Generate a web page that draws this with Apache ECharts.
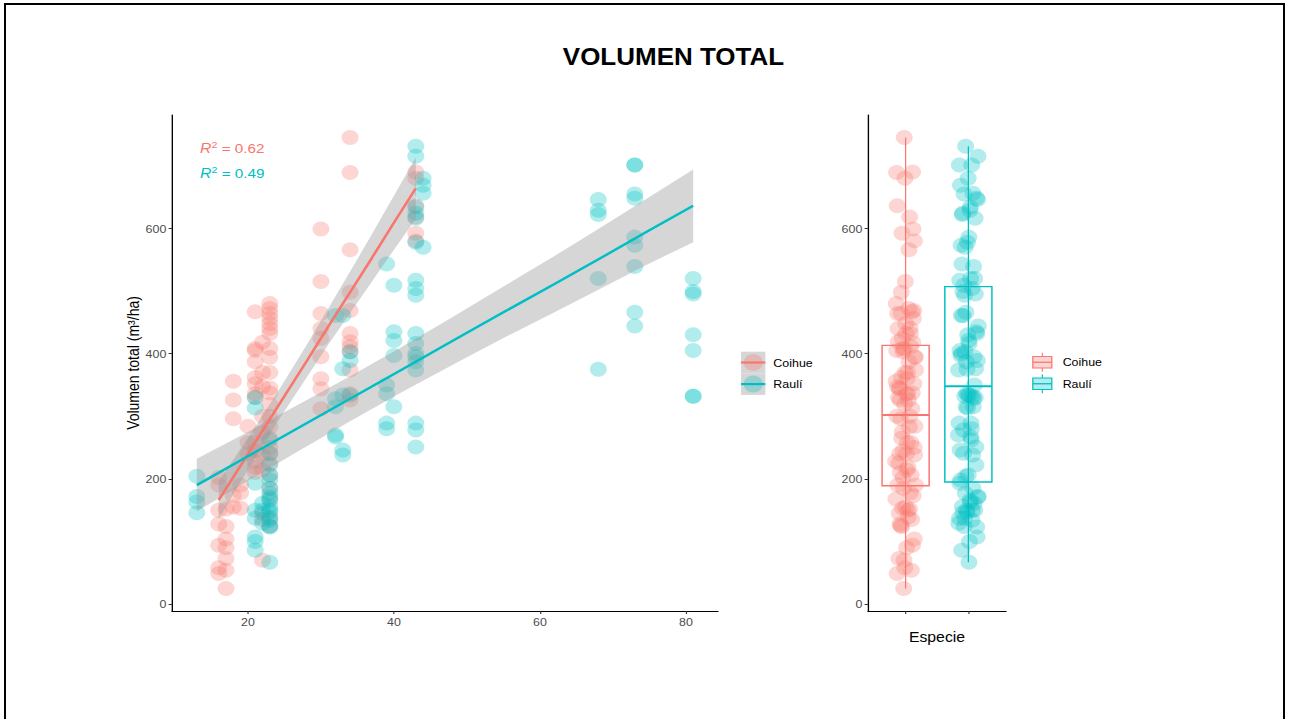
<!DOCTYPE html>
<html>
<head>
<meta charset="utf-8">
<title>VOLUMEN TOTAL</title>
<script src="https://cdn.jsdelivr.net/npm/echarts@6/dist/echarts.min.js"></script>
<style>
  html, body { margin: 0; padding: 0; background: #fff; overflow: hidden; }
  #wrap { position: absolute; left: 0; top: 0; width: 1142.5px; height: 719px;
          transform: scaleX(1.13); transform-origin: 0 0; }
  #chart { width: 100%; height: 100%; }
  #frame { position: absolute; left: 4px; top: 3px; width: 1281px; height: 800px;
           border: 2px solid #000; box-sizing: border-box; pointer-events: none; }
</style>
</head>
<body>
<div id="wrap"><div id="chart"></div></div>
<div id="frame"></div>
<script>
// ---- data -------------------------------------------------------------
const species = ['Coihue', 'Raulí'];

// Coihue: x position of each column and the volumes (m3/ha) in it
const coihueXs = [16, 17, 18, 19, 20, 21, 22, 23, 30, 34, 43];
const coihueVol = [
  [202, 190, 150, 128, 94, 58, 49],
  [152, 124, 104, 90, 73, 54, 25],
  [356, 326, 296, 173, 155],
  [190, 178, 153],
  [284, 258, 240],
  [467, 408, 405, 387, 362, 352, 336, 330, 258, 245, 228, 218, 210],
  [418, 370, 347, 300, 275, 238, 214, 145, 135, 70],
  [480, 472, 464, 456, 448, 440, 432, 408, 394, 370, 345, 337, 319, 300, 283, 265, 250, 240, 225, 206, 185, 168, 139, 125],
  [599, 515, 464, 440, 424, 395, 360, 344, 312],
  [745, 689, 566, 498, 469, 432, 419, 411, 403, 374, 336, 326],
  [690, 680, 636, 618, 592, 580]
];

// Raulí
const rauliXs = [13, 21, 22, 23, 32, 33, 34, 39, 40, 43, 44, 68, 73, 81];
const rauliVol = [
  [204, 172, 163, 146],
  [330, 313, 193, 150, 137, 107, 100, 86],
  [161, 150, 129],
  [262, 241, 222, 206, 198, 185, 177, 171, 166, 156, 150, 147, 137, 134, 124, 123, 67],
  [461, 328, 315, 270, 267],
  [461, 376, 334, 246, 238],
  [403, 389, 334],
  [543, 350, 336, 289, 280],
  [509, 435, 421, 397, 315],
  [731, 715, 634, 624, 616, 578, 517, 504, 493, 432, 416, 400, 395, 387, 374, 289, 278, 251],
  [680, 669, 656, 570],
  [646, 629, 622, 520, 375],
  [701, 701, 655, 648, 586, 573, 539, 466, 444],
  [520, 499, 495, 430, 405, 332, 332]
];

// linear fits with their confidence bands
const coihueFitX = [16, 19, 22, 25, 28, 31, 34, 37, 40, 43];
const coihueFit  = [166, 221, 277, 332, 387, 443, 498, 553, 609, 664];
const coihueLo   = [136, 195, 252, 308, 361, 414, 465, 515, 566, 615];
const coihueHi   = [196, 248, 301, 356, 413, 472, 531, 591, 652, 713];

const rauliFitX = [13, 20, 27, 34, 41, 48, 55, 62, 69, 75, 81];
const rauliFit  = [190, 236, 282, 328, 374, 420, 466, 511, 557, 597, 636];
const rauliLo   = [148, 197, 245, 292, 338, 382, 425, 466, 508, 544, 578];
const rauliHi   = [232, 275, 319, 364, 410, 458, 507, 556, 606, 650, 694];

const r2Labels = ['0.62', '0.49'];

// box statistics: min, Q1, median, Q3, max
const coihueBox = [25, 189, 302, 413, 745];
const rauliBox  = [67, 195, 348, 507, 731];

// axis ticks
const xTicks = [20, 40, 60, 80];
const yTicks = [0, 200, 400, 600];

// ---- helpers ----------------------------------------------------------
const COL = ['#F8766D', '#00BFC4'];
const FONT = '"Liberation Sans", Arial, Helvetica, sans-serif';

function pairs(xs, cols) {
  const out = [];
  cols.forEach((col, i) => col.forEach(v => out.push([xs[i], v])));
  return out;
}
function zip(xs, ys) { return xs.map((x, i) => [x, ys[i]]); }

// horizontal spread of the dots around a category centre
function spread(values, centre) {
  return values.map((v, i) => {
    const f = (i * 0.6180339887 + 0.37) % 1;
    return [centre + (f - 0.5) * 0.32, v];
  });
}

function bandSeries(xs, lo, hi) {
  return {
    type: 'custom', xAxisIndex: 0, yAxisIndex: 0, z: 3, silent: true,
    data: [[xs[0], lo[0]]],
    renderItem: (params, api) => {
      const pts = [];
      xs.forEach((x, i) => pts.push(api.coord([x, hi[i]])));
      for (let i = xs.length - 1; i >= 0; i--) pts.push(api.coord([xs[i], lo[i]]));
      return { type: 'polygon', shape: { points: pts },
               style: { fill: 'rgba(153,153,153,0.4)' } };
    }
  };
}

function fitSeries(xs, ys, color) {
  return {
    type: 'line', xAxisIndex: 0, yAxisIndex: 0, z: 4, silent: true,
    data: zip(xs, ys), symbol: 'none',
    lineStyle: { color: color, width: 2.4 }
  };
}

function scatterSeries(data, color, axisIdx) {
  return {
    type: 'scatter', xAxisIndex: axisIdx, yAxisIndex: axisIdx, z: 2, silent: true,
    data: data, symbol: 'circle', symbolSize: 15,
    itemStyle: { color: color, opacity: 0.3, borderWidth: 0 }
  };
}

function axisCommon() {
  return {
    axisLine: { show: true, onZero: false, lineStyle: { color: '#000', width: 1.2 } },
    axisTick: { show: true, length: 3, lineStyle: { color: '#333', width: 1 } },
    splitLine: { show: false },
    axisLabel: { color: '#4D4D4D', fontSize: 11, fontFamily: FONT }
  };
}

function yAxis(gridIndex, withName) {
  const a = axisCommon();
  return Object.assign(a, {
    type: 'value', gridIndex: gridIndex, min: -11, max: 781,
    axisLabel: Object.assign(a.axisLabel, { customValues: yTicks, margin: 5 }),
    axisTick: Object.assign(a.axisTick, { customValues: yTicks }),
    name: withName ? 'Volumen total (m³/ha)' : '',
    nameLocation: 'middle', nameRotate: 90, nameGap: 25,
    nameTextStyle: { color: '#000', fontSize: 14, fontFamily: FONT }
  });
}

// ---- chart ------------------------------------------------------------
const chart = echarts.init(document.getElementById('chart'), null, { renderer: 'svg' });

const coihueAll = coihueVol.flat();
const rauliAll = rauliVol.flat();

const xLeft = axisCommon();
Object.assign(xLeft, {
  type: 'value', gridIndex: 0, min: 9.6, max: 84.4,
  axisLabel: Object.assign(xLeft.axisLabel, { customValues: xTicks, margin: 5 }),
  axisTick: Object.assign(xLeft.axisTick, { customValues: xTicks })
});

const xRight = axisCommon();
Object.assign(xRight, {
  type: 'value', gridIndex: 1, min: 0.4, max: 2.6,
  axisLabel: Object.assign(xRight.axisLabel, { show: false }),
  axisTick: Object.assign(xRight.axisTick, { customValues: [1, 2] }),
  name: 'Especie', nameLocation: 'middle', nameGap: 19,
  nameTextStyle: { color: '#000', fontSize: 14, fontFamily: FONT }
});

const boxData = [[1].concat(coihueBox), [2].concat(rauliBox)];

function legendLeft() {
  const els = [];
  const x0 = 655.8, y0 = 351.7, kw = 21.5, kh = 21.6;
  species.forEach((name, i) => {
    const cy = y0 + kh * i + kh / 2;
    els.push({ type: 'rect', shape: { x: x0, y: y0 + kh * i, width: kw, height: kh },
               style: { fill: '#D6D6D6' }, silent: true });
    els.push({ type: 'circle', shape: { cx: x0 + kw / 2, cy: cy, r: 8.5 },
               style: { fill: COL[i], opacity: 0.3 }, silent: true });
    els.push({ type: 'line', shape: { x1: x0, y1: cy, x2: x0 + kw, y2: cy },
               style: { stroke: COL[i], lineWidth: 2.2 }, silent: true });
    els.push({ type: 'text', x: 684.4, y: cy,
               style: { text: name, fill: '#000', font: '11px ' + FONT,
                        align: 'left', verticalAlign: 'middle',
                        textAlign: 'left', textVerticalAlign: 'middle' }, silent: true });
  });
  return els;
}

function legendRight() {
  const els = [];
  const x0 = 914, y0 = 351.5, kh = 21.5, bw = 16.8;
  species.forEach((name, i) => {
    const cy = y0 + kh * i + kh / 2;
    const cx = x0 + bw / 2;
    els.push({ type: 'rect', shape: { x: x0, y: cy - 5.8, width: bw, height: 11.6 },
               style: { fill: COL[i], opacity: 0.3 }, silent: true });
    els.push({ type: 'rect', shape: { x: x0, y: cy - 5.8, width: bw, height: 11.6 },
               style: { fill: 'none', stroke: COL[i], lineWidth: 1.1 }, silent: true });
    els.push({ type: 'line', shape: { x1: x0, y1: cy, x2: x0 + bw, y2: cy },
               style: { stroke: COL[i], lineWidth: 1.3 }, silent: true });
    els.push({ type: 'line', shape: { x1: cx, y1: cy - 9.5, x2: cx, y2: cy - 5.8 },
               style: { stroke: COL[i], lineWidth: 1 }, silent: true });
    els.push({ type: 'line', shape: { x1: cx, y1: cy + 5.8, x2: cx, y2: cy + 9.5 },
               style: { stroke: COL[i], lineWidth: 1 }, silent: true });
    els.push({ type: 'text', x: 940.4, y: cy,
               style: { text: name, fill: '#000', font: '11px ' + FONT,
                        align: 'left', verticalAlign: 'middle',
                        textAlign: 'left', textVerticalAlign: 'middle' }, silent: true });
  });
  return els;
}

function r2Texts() {
  return r2Labels.map((val, i) => ({
    type: 'text', x: 177, y: 148 + 25 * i, silent: true,
    style: {
      text: '{i|R}{s|2}{n| = ' + val + '}',
      fill: COL[i], align: 'left', verticalAlign: 'middle',
      textAlign: 'left', textVerticalAlign: 'middle',
      rich: {
        i: { fontStyle: 'italic', fontSize: 14, fontFamily: FONT, lineHeight: 17, fill: COL[i], color: COL[i] },
        s: { fontSize: 9.5, fontFamily: FONT, lineHeight: 17, verticalAlign: 'top', fill: COL[i], color: COL[i] },
        n: { fontSize: 13.5, fontFamily: FONT, lineHeight: 17, fill: COL[i], color: COL[i] }
      }
    }
  }));
}

const option = {
  animation: false,
  backgroundColor: 'transparent',
  textStyle: { fontFamily: FONT },
  grid: [
    { left: 152.2, top: 115, width: 483.2, height: 496, containLabel: false },
    { left: 768.1, top: 115, width: 122.2, height: 496, containLabel: false }
  ],
  xAxis: [xLeft, xRight],
  yAxis: [yAxis(0, true), yAxis(1, false)],
  graphic: [
    { type: 'text', x: 596, y: 57, silent: true,
      style: { text: 'VOLUMEN TOTAL', fill: '#000', font: 'bold 23px ' + FONT,
               align: 'center', verticalAlign: 'middle',
               textAlign: 'center', textVerticalAlign: 'middle' } }
  ].concat(r2Texts(), legendLeft(), legendRight()),
  series: [
    scatterSeries(pairs(coihueXs, coihueVol), COL[0], 0),
    scatterSeries(pairs(rauliXs, rauliVol), COL[1], 0),
    bandSeries(coihueFitX, coihueLo, coihueHi),
    fitSeries(coihueFitX, coihueFit, COL[0]),
    bandSeries(rauliFitX, rauliLo, rauliHi),
    fitSeries(rauliFitX, rauliFit, COL[1]),
    scatterSeries(spread(coihueAll, 1), COL[0], 1),
    scatterSeries(spread(rauliAll, 2), COL[1], 1),
    {
      type: 'custom', xAxisIndex: 1, yAxisIndex: 1, z: 5, silent: true,
      data: boxData,
      renderItem: (params, api) => {
        const c = api.value(0);
        const mn = api.value(1), q1 = api.value(2), md = api.value(3),
              q3 = api.value(4), mx = api.value(5);
        const color = COL[params.dataIndex];
        const half = 0.375;
        const pMin = api.coord([c, mn]), pMax = api.coord([c, mx]);
        const tl = api.coord([c - half, q3]), br = api.coord([c + half, q1]);
        const ml = api.coord([c - half, md]), mr = api.coord([c + half, md]);
        return {
          type: 'group',
          children: [
            { type: 'line', shape: { x1: pMin[0], y1: pMin[1], x2: pMax[0], y2: pMax[1] },
              style: { stroke: color, lineWidth: 1.1 } },
            { type: 'rect', shape: { x: tl[0], y: tl[1], width: br[0] - tl[0], height: br[1] - tl[1] },
              style: { fill: 'none', stroke: color, lineWidth: 1.3 } },
            { type: 'line', shape: { x1: ml[0], y1: ml[1], x2: mr[0], y2: mr[1] },
              style: { stroke: color, lineWidth: 2 } }
          ]
        };
      }
    }
  ]
};

chart.setOption(option);
</script>
</body>
</html>
